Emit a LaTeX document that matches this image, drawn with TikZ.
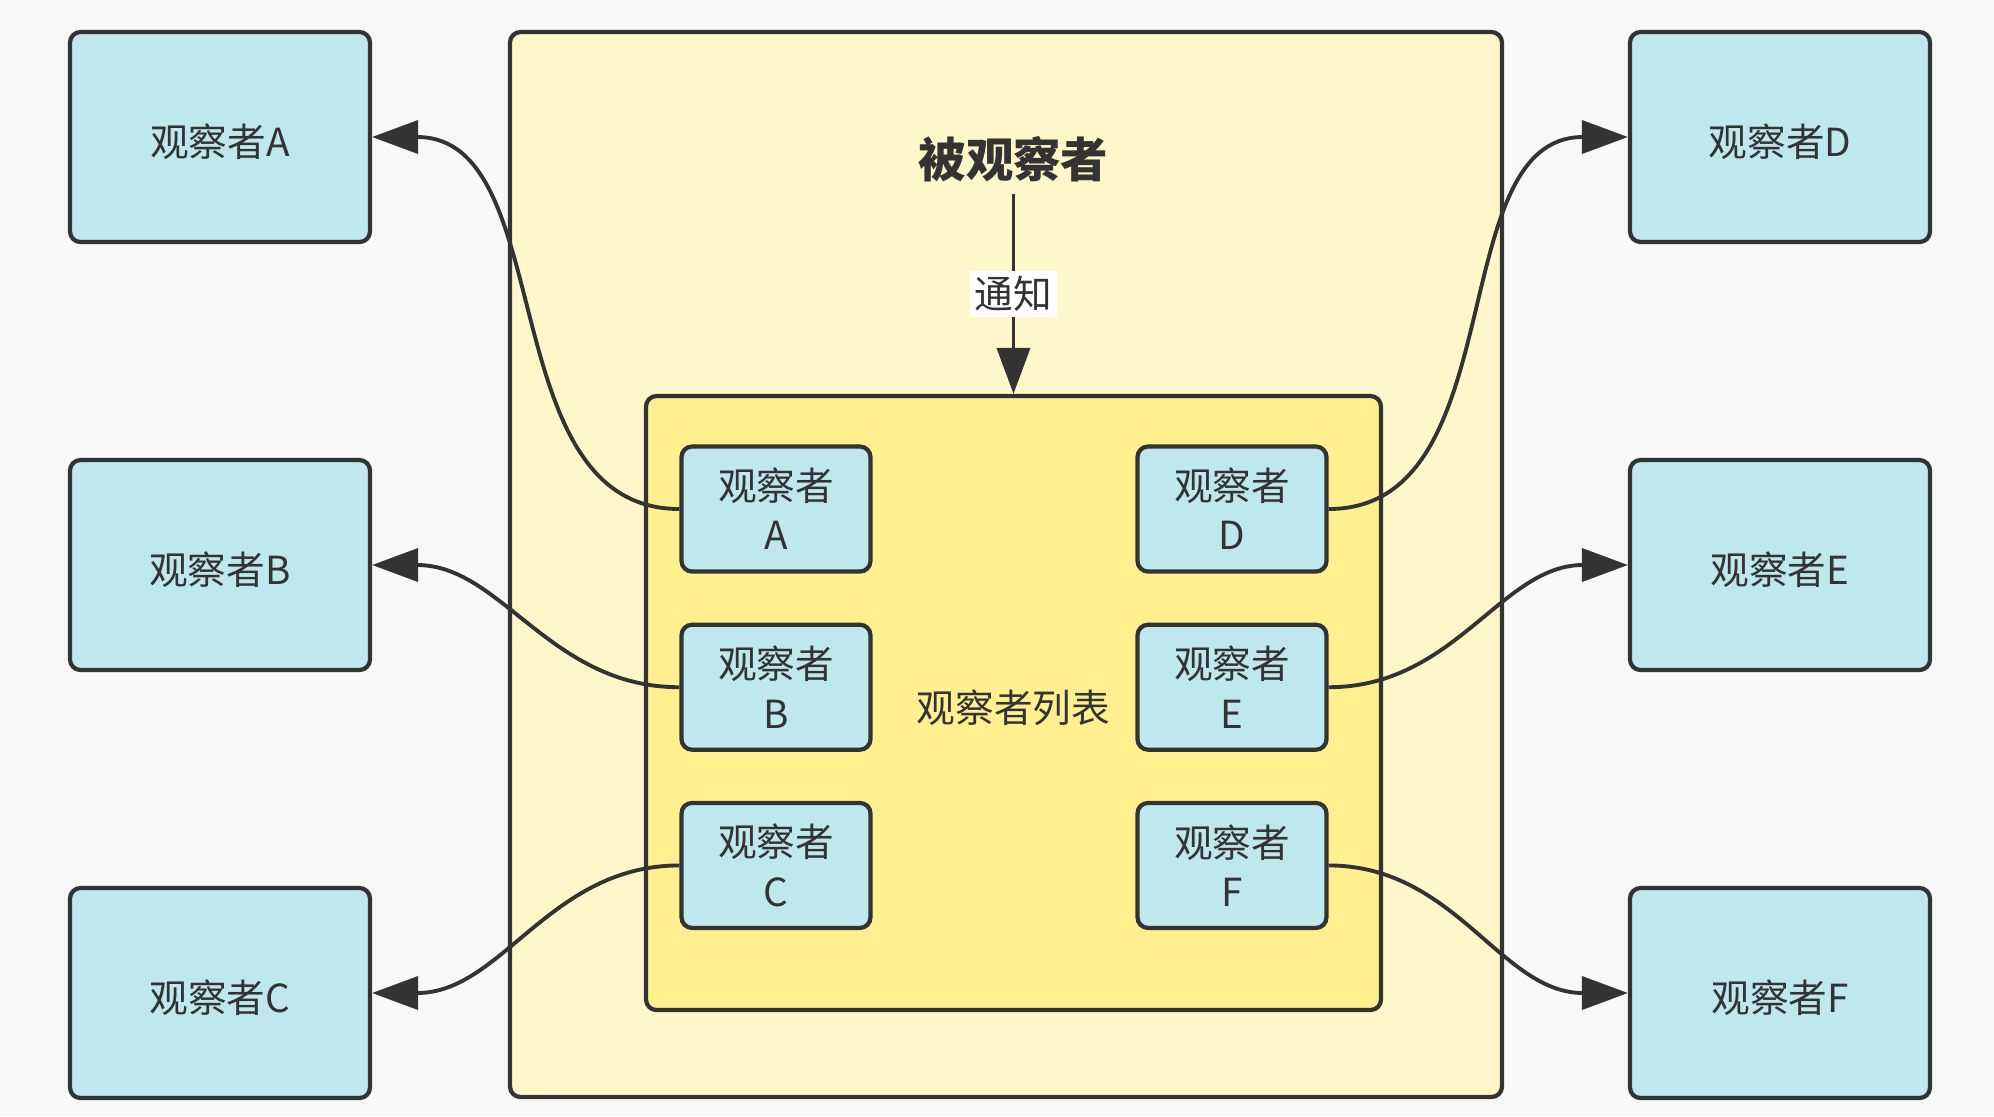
\documentclass[tikz,border=0pt]{standalone}
\usepackage{fontspec}
\usepackage{tikz}
\usetikzlibrary{arrows.meta, positioning, backgrounds}
\newfontfamily\cjk{Noto Sans CJK SC}
\definecolor{obsblue}{HTML}{BFE8EE}
\definecolor{subjyellow}{HTML}{FFF7C9}
\definecolor{listyellow}{HTML}{FFEF8E}
\definecolor{inkgray}{HTML}{333333}
\definecolor{pagegray}{HTML}{F8F8F8}
\tikzset{
    obsbase/.style={rectangle, rounded corners=3pt, draw=inkgray, line width=1.2pt, fill=obsblue, text=inkgray, font=\cjk\fontsize{11}{14}\selectfont, align=center},
    obsbox/.style={obsbase, minimum width=3cm, minimum height=2.1cm, text height=1.1em, text depth=0pt},
    itembox/.style={obsbase, minimum width=1.89cm, minimum height=1.25cm, inner sep=1pt},
    holder/.style={rectangle, rounded corners=3pt, draw=inkgray, line width=1.2pt},
    notify/.style={-{Triangle[length=4.6mm, width=3.3mm]}, line width=1.1pt, draw=inkgray},
}

\begin{document}
\begin{tikzpicture}[
    node distance=4.9mm,
    lbl/.style={text=inkgray, font=\cjk\fontsize{11}{14}\selectfont},
]

% page
\fill[pagegray] (0,0) rectangle (19.94,-11.16);
\useasboundingbox (0,0) rectangle (19.94,-11.16);

% Subject with its observer list
\node[holder, fill=subjyellow, minimum width=9.92cm, minimum height=10.65cm] (subj) at (10.06,-5.645) {};
\node[holder, fill=listyellow, minimum width=7.35cm, minimum height=6.14cm] (list) at (10.135,-7.03) {};
\node[text=inkgray, font=\cjk\bfseries\fontsize{13.5}{16}\selectfont] (title) at (10.135,-1.59) {被观察者};
\node[lbl] (listlbl) at (10.135,-7.08) {观察者列表};

% Registered observers
\node[itembox] (ia) at (7.76,-5.09) {观察者\\A};
\node[itembox, below=of ia] (ib) {观察者\\B};
\node[itembox, below=of ib] (ic) {观察者\\C};
\node[itembox] (id) at (12.32,-5.09) {观察者\\D};
\node[itembox, below=of id] (ie) {观察者\\E};
\node[itembox, below=of ie] (if) {观察者\\F};

% Observers outside
\node[obsbox] (oa) at (2.20,-1.37) {观察者A};
\node[obsbox] (ob) at (2.20,-5.65) {观察者B};
\node[obsbox] (oc) at (2.20,-9.93) {观察者C};
\node[obsbox] (od) at (17.80,-1.37) {观察者D};
\node[obsbox] (oe) at (17.80,-5.65) {观察者E};
\node[obsbox] (of) at (17.80,-9.93) {观察者F};

% Arrows
\draw[notify] (title.south) -- (list.north) node[midway, fill=white, inner sep=1.5pt, lbl] {通知};
\draw[notify] (ia.west) to[out=180, in=0] (oa.east);
\draw[notify] (ib.west) to[out=180, in=0] (ob.east);
\draw[notify] (ic.west) to[out=180, in=0] (oc.east);
\draw[notify] (id.east) to[out=0, in=180] (od.west);
\draw[notify] (ie.east) to[out=0, in=180] (oe.west);
\draw[notify] (if.east) to[out=0, in=180] (of.west);

\end{tikzpicture}
\end{document}
